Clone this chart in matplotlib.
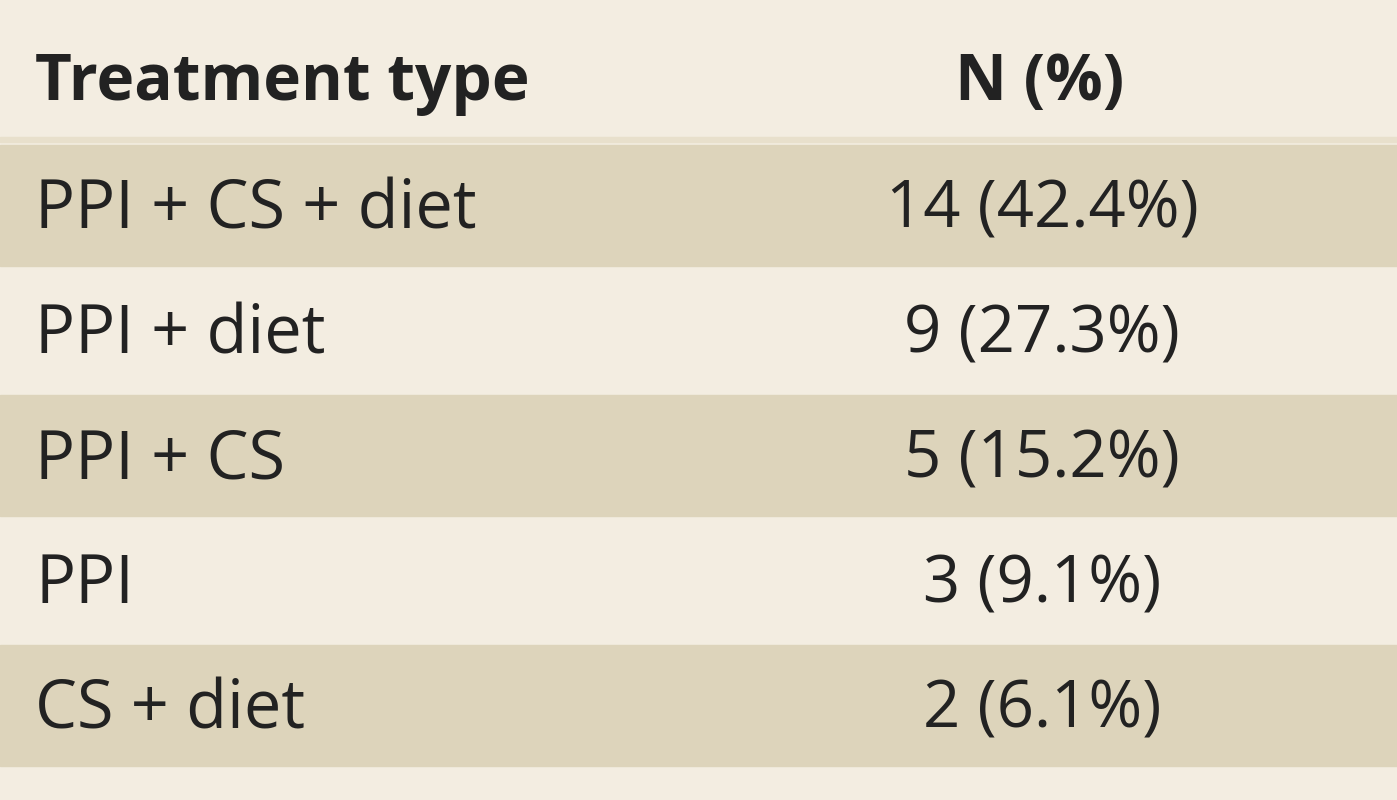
import matplotlib
matplotlib.use("Agg")
import matplotlib.pyplot as plt
from matplotlib.patches import Rectangle

header = ["Treatment type", "N (%)"]
treatments = ["PPI + CS + diet", "PPI + diet", "PPI + CS", "PPI", "CS + diet"]
counts = [14, 9, 5, 3, 2]
percents = [42.4, 27.3, 15.2, 9.1, 6.1]

W, H = 1397, 800
fig = plt.figure(figsize=(W/100, H/100), dpi=100)
ax = fig.add_axes([0, 0, 1, 1])
ax.set_xlim(0, W); ax.set_ylim(H, 0); ax.axis("off")
bg = "#f3ede1"; stripe = "#ddd4bb"
ax.add_patch(Rectangle((0, 0), W, H, color=bg, zorder=0))
ax.add_patch(Rectangle((0, 137), W, 5, color="#e8e0cc", zorder=1))

top, rh = 143, 125
ax.text(35, 84, header[0], fontsize=46, fontweight="bold", va="center", ha="left",
        family="Open Sans", color="#222222")
ax.text(1040, 84, header[1], fontsize=46, fontweight="bold", va="center", ha="center",
        family="Open Sans", color="#222222")
for i, (t, c, p) in enumerate(zip(treatments, counts, percents)):
    y0 = top + i*rh
    if i % 2 == 0:
        ax.add_patch(Rectangle((0, y0+2), W, rh-4, color=stripe, zorder=1))
    yc = y0 + rh/2 + 5
    ax.text(35, yc, t, fontsize=48, va="center", ha="left", family="Open Sans",
            color="#222222", zorder=2)
    ax.text(1042, yc, f"{c} ({p}%)", fontsize=47, va="center", ha="center",
            family="Open Sans", color="#222222", zorder=2)
fig.savefig("out.png", dpi=100)
